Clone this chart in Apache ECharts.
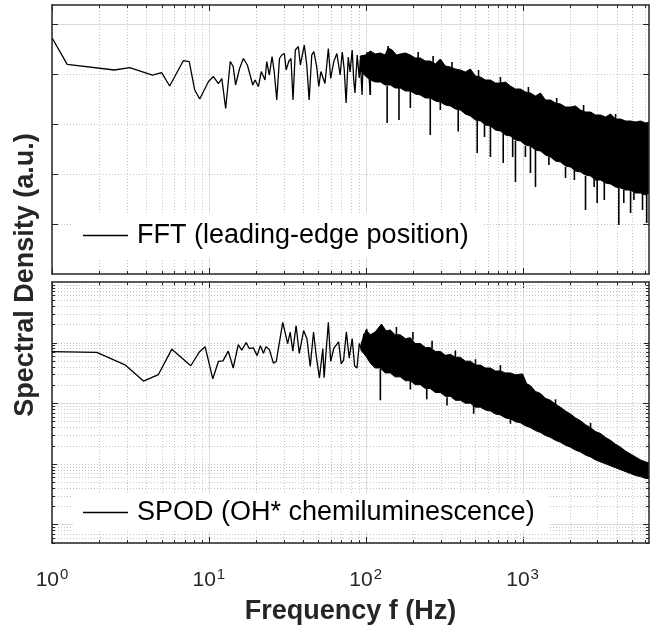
<!DOCTYPE html>
<html>
<head>
<meta charset="utf-8">
<script src="https://cdn.jsdelivr.net/npm/echarts@6/dist/echarts.min.js"></script>
<style>html,body{margin:0;padding:0;background:#fff}#chart{width:665px;height:626px}</style>
</head>
<body>
<div id="chart"></div>
<script>
// ---------------- data (frequency in Hz, spectral density in dB re 1 a.u.) ----------------
const xTickMajor = [1, 10, 100, 1000];
const xTickMinor = [2,3,4,5,6,7,8,9,20,30,40,50,60,70,80,90,200,300,400,500,600,700,800,900,2000,3000,4000,5000,6000];
const xRange = [1, 6400];

const topYRange = [1e-5, 2.4];
const topYMajor = [1];
const topYDecade = [1e-4, 1e-3, 1e-2, 1e-1];
const topYMinor = [];

const botYRange = [0.00494, 100];
const botYMajor = [0.01, 1];
const botYDecade = [0.1, 10];
const botYMinor = [0.005,0.006,0.007,0.008,0.009,0.02,0.03,0.04,0.05,0.06,0.07,0.08,0.09,
  0.2,0.3,0.4,0.5,0.6,0.7,0.8,0.9,2,3,4,5,6,7,8,9,20,30,40,50,60,70,80,90];

// FFT (leading-edge position): resolved low-frequency part
const fftLineFreq = [1,1.25,2.5,3.125,4.375,5.0,5.625,6.875,7.5,8.125,
  8.75,9.95,10.7,11.5,12.1,12.8,13.7,14.3,14.8,15.7,
  16.6,17.6,19.05,19.7,20.7,21.6,22.8,23.4,24.3,25.3,
  26.1,27.1,28.2,29.2,30.3,31.1,32.3,33.4,34.4,35.6,
  37.2,38.3,40.6,42.1,43.6,45.3,46.7,48.7,50.2,51.8,
  55.0,57.8,59.8,62.6,65.5,66.9,68.7,70.9,73.0,75.0,
  77.4,79.5,82.0,83.9,85.4,88.3,91.0,92.4,94.8,96.5,
  99.4,101.9,104,107];
const fftLineDb = [-2.74,-8.06,-9.2,-8.74,-10.2,-9.74,-12.4,-7.34,-7.54,-13.2,
  -15.0,-11.5,-10.5,-11.9,-10.9,-16.9,-7.5,-8.5,-12.2,-8.9,
  -6.9,-8.2,-12.2,-11.2,-12.5,-9.5,-11.2,-7.5,-10.2,-6.5,
  -9.5,-15.2,-6.9,-6.2,-5.9,-9.2,-7.5,-6.9,-15.2,-5.2,
  -4.5,-8.2,-4.2,-8.2,-15.2,-6.2,-5.5,-8.5,-12.5,-9.5,
  -11.9,-4.9,-10.9,-7.5,-5.9,-6.2,-10.2,-5.6,-9.2,-15.8,
  -6.6,-9.6,-5.2,-11.2,-13.8,-6.2,-10.8,-7.2,-14.2,-6.4,
  -10.2,-5.6,-8.8,-14.2];

// FFT: dense part, upper and lower edge of the trace
const fftUpFreq = [92.4,99.4,107,115,124,133,139,147.7,157,166,179,192.6,207,223,240,258,278,299,322,346.7,
  373,401.6,432,465,501,538.7,580,624,672,722.7,778,837,901,969.6,1043,1123,1209,1301,1400,1507,
  1622,1745,1879,2022,2176,2342,2520,2713,2920,3142,3382,3640,3918,4216,4538,4884,5257,5656,6089,6400];
const fftUpDb = [-6.4,-6.2,-5.4,-6.0,-5.8,-6.2,-4.8,-5.2,-6.2,-6.0,-5.8,-6.2,-6.8,-6.8,-7.4,-7.4,-8.0,-7.0,-8.4,-8.6,
  -9.0,-9.2,-9.6,-9.0,-10.4,-10.6,-11.2,-11.2,-11.8,-11.8,-11.6,-12.4,-13.0,-13.0,-13.6,-13.8,-14.4,-13.8,-15.2,-15.2,
  -15.8,-16.0,-16.6,-16.6,-16.4,-17.2,-17.6,-17.6,-18.2,-18.2,-18.6,-18.0,-19.0,-19.0,-19.4,-19.4,-19.6,-19.4,-19.8,-19.6];
const fftLoFreq = [92.4,99.4,107,115,124,133,143.5,154,166,179,192.6,207,223,240,258,278,299,322,346.7,373,
  401.6,432,465,501,538.7,580,624,672,722.7,778,837,901,969.6,1043,1123,1209,1301,1400,1507,1622,
  1745,1879,2022,2176,2342,2520,2713,2920,3142,3382,3640,3918,4216,4538,4884,5257,5656,6089,6400];
const fftLoDb = [-9.2,-10.4,-11.2,-11.6,-11.6,-12.2,-12.2,-12.8,-12.8,-13.4,-13.4,-14.0,-14.2,-14.8,-14.8,-15.4,-15.6,-16.2,-16.4,-17.0,
  -17.2,-18.0,-18.4,-19.2,-19.4,-20.2,-20.4,-21.2,-21.4,-22.2,-22.4,-23.2,-23.4,-24.2,-24.4,-25.2,-25.4,-26.2,-26.6,-27.4,
  -27.6,-28.4,-28.6,-29.4,-29.6,-30.2,-30.4,-31.2,-31.2,-31.8,-32.0,-32.6,-32.8,-33.2,-33.2,-33.8,-33.8,-34.2,-33.8];
// FFT: deep downward dips and narrow upward peaks in the dense part (from edge value to tip value)
const fftDipFreq = [107,137,163,192.6,258,299,389,514,572,624,753,865,901,1043,1123,1209,1472,1879,2140,2520,2860,2990,3320,4110,4420,4884,5130,5820,6190];
const fftDipTopDb = [-11.2,-12.4,-12.8,-13.2,-14.8,-15.4,-16.8,-19.2,-20.0,-20.2,-21.8,-22.6,-23.4,-24.4,-24.2,-25.2,-26.6,-28.6,-29.2,-30.4,-30.8,-31.2,-31.6,-32.8,-33.2,-33.2,-33.6,-33.6,-34.0];
const fftDipDb = [-14.2,-19.8,-19.2,-16.8,-22.2,-17.2,-21.5,-25.8,-22.6,-26.6,-27.8,-26.6,-31.6,-26.6,-29.8,-32.6,-28.2,-30.8,-31.2,-37.2,-32.6,-35.8,-35.2,-40.2,-35.8,-37.8,-35.2,-37.2,-39.8];
const fftPeakFreq = [139,216,269,355,524,722.7,1090,1650,2450,3918];
const fftPeakBaseDb = [-5.8,-6.8,-7.8,-8.8,-10.6,-11.8,-13.8,-16.0,-17.4,-19.2];
const fftPeakDb = [-4.4,-5.6,-6.4,-7.6,-9.2,-10.6,-12.6,-14.8,-16.2,-18.0];

// SPOD (OH* chemiluminescence): resolved low-frequency part
const spodLineFreq = [1,1.93,2.92,3.83,4.77,5.81,7.67,8.73,9.47,10.6,
  11.5,12.3,13.3,14.3,15.4,16.2,17.3,18.1,19.2,20.3,
  21.3,22.3,23.1,24.3,25.8,26.9,29.6,31.8,33.0,34.3,
  36.0,37.7,40.2,42.2,44.3,46.5,48.3,50.7,53.3,54.3,
  57.8,59.8,62.6,67.2,69.8,72.3,75.3,78.5,82.0,85.0,
  88.0,91.0,94.5,97.2,99.4,101.6,104.7,107];
const spodLineDb = [8.5,8.39,6.34,3.66,4.73,8.92,6.18,8.5,9.31,4.03,
  6.89,6.98,8.6,5.81,9.68,8.76,10.0,9.03,9.14,7.85,
  9.47,8.23,9.31,8.87,6.61,6.89,13.34,9.84,11.73,8.6,
  12.79,8.23,11.98,10.65,6.08,11.73,7.95,4.19,9.03,4.19,
  13.34,6.89,9.03,10.11,6.5,7.1,11.77,7.42,10.65,6.13,
  5.81,9.84,8.71,11.45,8.23,12.26,7.42,9.35];

// SPOD: dense part, upper and lower edge of the trace
const spodUpFreq = [93.5,100.5,107,115,126,135,143.5,154,166,179,192.6,207,223,240,258,278,299,322,346.7,373,
  401.6,432,465,501,538.7,580,624,672,722.7,778,837,901,1000,1062,1123,1209,1301,1400,1507,1622,
  1745,1879,2022,2176,2342,2520,2713,2920,3142,3382,3640,3918,4216,4538,4884,5257,5656,6089,6400];
const spodUpDb = [9.84,12.1,11.29,11.77,13.06,11.94,12.1,11.29,11.29,10.65,10.81,9.84,9.84,9.19,9.19,8.55,8.55,7.9,8.06,7.58,
  7.58,6.94,6.94,6.29,6.29,5.81,5.81,5.32,5.32,5.0,5.0,4.68,4.84,3.23,2.9,1.94,1.61,0.81,0.48,-0.16,
  -0.65,-1.29,-1.77,-2.42,-2.9,-3.55,-4.03,-4.68,-5.0,-5.65,-6.13,-6.77,-7.26,-7.9,-8.39,-8.87,-9.35,-9.68,-9.84];
const spodLoFreq = [93.5,100.5,107,115,124,133,143.5,154,166,179,192.6,207,223,240,258,278,299,322,346.7,373,
  401.6,432,465,501,538.7,580,624,672,722.7,778,837,901,969.6,1043,1123,1209,1301,1400,1507,1622,
  1745,1879,2022,2176,2342,2520,2713,2920,3142,3382,3640,3918,4216,4538,4884,5257,5656,6089,6400];
const spodLoDb = [8.71,7.74,6.61,5.81,5.81,5.0,5.0,4.35,4.35,3.71,3.71,3.06,3.06,2.42,2.42,1.77,1.77,1.13,1.13,0.48,
  0.48,0,0,-0.65,-0.65,-1.13,-1.29,-1.77,-1.94,-2.42,-2.58,-3.06,-3.23,-3.71,-4.03,-4.52,-4.84,-5.32,-5.65,-6.13,
  -6.45,-6.94,-7.26,-7.74,-8.06,-8.55,-8.87,-9.35,-9.68,-10.0,-10.32,-10.65,-10.97,-11.29,-11.61,-11.94,-12.1,-12.42,-12.42];
const spodDipFreq = [124,192.6,245,330,488,837];
const spodDipTopDb = [5.65,3.71,2.42,0.97,0.48,-2.42];
const spodDipDb = [0.48,2.26,0.65,-0.37,-1.73,-3.39];
const spodPeakFreq = [157,200,265,373,501,722.7,1622,2713];
const spodPeakBaseDb = [11.29,10.48,9.03,7.42,6.13,5.16,-0.32,-4.19];
const spodPeakDb = [12.58,11.77,10.32,8.71,7.26,6.29,0.65,-3.23];

const fftName = 'FFT (leading-edge position)';
const spodName = 'SPOD (OH* chemiluminescence)';

// ---------------- helpers ----------------
const FONT = "'Liberation Sans', Arial, Helvetica, sans-serif";
const FRAME = '#262626';
const GRID_MAJOR = '#dcdcdc';
const GRID_MINOR = '#c4c4c4';

const fromDb = d => Math.pow(10, d / 10);
const pairs = (f, d) => f.slice(0, Math.min(f.length, d.length)).map((x, i) => [x, fromDb(d[i])]);
const band = (uf, ud, lf, ld) => pairs(uf, ud).concat(pairs(lf, ld).reverse());
const segs = (f, t, b) => f.map((x, i) => [x, fromDb(t[i]), fromDb(b[i])]);

function gridItems(yRef, yMajor, yDecade, yMinor) {
  const items = [];
  xTickMajor.forEach(v => items.push([v, yRef, 0]));
  xTickMinor.forEach(v => items.push([v, yRef, 1]));
  yMajor.forEach(v => items.push([10, v, 2]));
  yDecade.forEach(v => items.push([10, v, 3]));
  yMinor.forEach(v => items.push([10, v, 4]));
  return items;
}
function makeGridRenderer(decadeLen) {
  return function (params, api) {
    const cs = params.coordSys;
    const kind = api.value(2);
    const p = api.coord([api.value(0), api.value(1)]);
    const L = cs.x, R = cs.x + cs.width, T = cs.y, B = cs.y + cs.height;
    const solid = { stroke: GRID_MAJOR, lineWidth: 1 };
    const dot = { stroke: GRID_MINOR, lineWidth: 1, lineDash: [1, 2] };
    const tick = { stroke: FRAME, lineWidth: 1 };
    const kids = [];
    if (kind <= 1) {
      const x = Math.round(p[0]) + 0.5;
      const len = kind === 0 ? 6 : 3;
      kids.push({ type: 'line', shape: { x1: x, y1: T, x2: x, y2: B }, style: kind === 0 ? solid : dot });
      kids.push({ type: 'line', shape: { x1: x, y1: B, x2: x, y2: B - len }, style: tick });
      kids.push({ type: 'line', shape: { x1: x, y1: T, x2: x, y2: T + len }, style: tick });
    } else {
      const y = Math.round(p[1]) + 0.5;
      const len = kind === 2 ? 6 : (kind === 3 ? decadeLen : 3);
      kids.push({ type: 'line', shape: { x1: L, y1: y, x2: R, y2: y }, style: kind === 2 ? solid : dot });
      kids.push({ type: 'line', shape: { x1: L, y1: y, x2: L + len, y2: y }, style: tick });
      kids.push({ type: 'line', shape: { x1: R, y1: y, x2: R - len, y2: y }, style: tick });
    }
    return { type: 'group', children: kids, silent: true };
  };
}
function makeBandRenderer(points) {
  return function (params, api) {
    if (params.dataIndex !== 0) return null;
    const pts = points.map(d => api.coord(d));
    return { type: 'polygon', shape: { points: pts }, style: { fill: '#000', stroke: '#000', lineWidth: 1 }, silent: true };
  };
}
function segRenderer(params, api) {
  const a = api.coord([api.value(0), api.value(1)]);
  const b = api.coord([api.value(0), api.value(2)]);
  return { type: 'line', shape: { x1: a[0], y1: a[1], x2: b[0], y2: b[1] }, style: { stroke: '#000', lineWidth: 1.6 }, silent: true };
}

const fftBand = band(fftUpFreq, fftUpDb, fftLoFreq, fftLoDb);
const spodBand = band(spodUpFreq, spodUpDb, spodLoFreq, spodLoDb);
const fftSegs = segs(fftDipFreq, fftDipTopDb, fftDipDb).concat(segs(fftPeakFreq, fftPeakBaseDb, fftPeakDb));
const spodSegs = segs(spodDipFreq, spodDipTopDb, spodDipDb).concat(segs(spodPeakFreq, spodPeakBaseDb, spodPeakDb));

function xAx(gridIndex, pos, labels) {
  const ax = {
    type: 'log', logBase: 10, gridIndex, position: pos, min: xRange[0], max: xRange[1], z: 10,
    axisLine: { show: true, onZero: false, lineStyle: { color: FRAME, width: 1.5 } },
    axisTick: { show: false }, splitLine: { show: false }, minorTick: { show: false },
    axisLabel: { show: false }
  };
  if (labels) {
    ax.axisLabel = {
      show: true, margin: 24, showMinLabel: true, showMaxLabel: false, color: FRAME,
      formatter: v => {
        const e = Math.log10(v);
        if (Math.abs(e - Math.round(e)) > 1e-6) return '';
        return '{b|10}{s|' + Math.round(e) + '}';
      },
      rich: {
        b: { fontSize: 21, fontFamily: FONT, color: FRAME, verticalAlign: 'bottom' },
        s: { fontSize: 15, fontFamily: FONT, color: FRAME, verticalAlign: 'bottom', padding: [0, 0, 9, 1] }
      }
    };
    ax.name = 'Frequency f (Hz)';
    ax.nameLocation = 'middle';
    ax.nameGap = 55;
    ax.nameTextStyle = { fontSize: 27, fontWeight: 'bold', fontFamily: FONT, color: FRAME };
  }
  return ax;
}
function yAx(gridIndex, pos, range) {
  return {
    type: 'log', logBase: 10, gridIndex, position: pos, min: range[0], max: range[1], z: 10,
    axisLine: { show: true, onZero: false, lineStyle: { color: FRAME, width: 1.5 } },
    axisTick: { show: false }, splitLine: { show: false }, axisLabel: { show: false }
  };
}

const chart = echarts.init(document.getElementById('chart'), null, { renderer: 'canvas' });
chart.setOption({
  animation: false,
  backgroundColor: '#fff',
  grid: [
    { left: 52, top: 5, width: 597, height: 269 },
    { left: 52, top: 282, width: 597, height: 267 }
  ],
  xAxis: [xAx(0, 'bottom', false), xAx(0, 'top', false), xAx(1, 'bottom', true), xAx(1, 'top', false)],
  yAxis: [yAx(0, 'left', topYRange), yAx(0, 'right', topYRange), yAx(1, 'left', botYRange), yAx(1, 'right', botYRange)],
  legend: [
    {
      data: [fftName], left: 72, top: 213, padding: [9, 14, 9, 11], backgroundColor: '#fff',
      icon: 'rect', itemWidth: 45, itemHeight: 1.5, selectedMode: false, itemStyle: { color: '#000' },
      textStyle: { fontSize: 27, fontFamily: FONT, color: '#000', padding: [0, 0, 0, 4] }
    },
    {
      data: [spodName], left: 73, top: 494, padding: [5, 15, 5, 10], backgroundColor: '#fff',
      icon: 'rect', itemWidth: 45, itemHeight: 1.5, selectedMode: false, itemStyle: { color: '#000' },
      textStyle: { fontSize: 27, fontFamily: FONT, color: '#000', padding: [0, 0, 0, 4] }
    }
  ],
  graphic: [{
    type: 'text', x: 26, y: 275, rotation: Math.PI / 2, silent: true,
    style: { text: 'Spectral Density (a.u.)', fontSize: 27, fontWeight: 'bold', fontFamily: FONT, fill: FRAME, align: 'center', verticalAlign: 'middle' }
  }],
  series: [
    { type: 'custom', name: 'grid-top', xAxisIndex: 0, yAxisIndex: 0, z: 1, silent: true,
      encode: { x: 0, y: 1 }, renderItem: makeGridRenderer(6), data: gridItems(0.01, topYMajor, topYDecade, topYMinor) },
    { type: 'custom', name: 'grid-bottom', xAxisIndex: 2, yAxisIndex: 2, z: 1, silent: true,
      encode: { x: 0, y: 1 }, renderItem: makeGridRenderer(5), data: gridItems(0.1, botYMajor, botYDecade, botYMinor) },

    { type: 'custom', name: 'fft-band', xAxisIndex: 0, yAxisIndex: 0, z: 3, clip: true,
      encode: { x: 0, y: 1 }, renderItem: makeBandRenderer(fftBand), data: fftBand },
    { type: 'custom', name: 'fft-spikes', xAxisIndex: 0, yAxisIndex: 0, z: 3, clip: true,
      encode: { x: 0, y: [1, 2] }, renderItem: segRenderer, data: fftSegs },
    { type: 'line', name: fftName, xAxisIndex: 0, yAxisIndex: 0, z: 4, symbol: 'none', showSymbol: false,
      lineStyle: { color: '#000', width: 1.3 }, itemStyle: { color: '#000' }, clip: true,
      data: pairs(fftLineFreq, fftLineDb) },

    { type: 'custom', name: 'spod-band', xAxisIndex: 2, yAxisIndex: 2, z: 3, clip: true,
      encode: { x: 0, y: 1 }, renderItem: makeBandRenderer(spodBand), data: spodBand },
    { type: 'custom', name: 'spod-spikes', xAxisIndex: 2, yAxisIndex: 2, z: 3, clip: true,
      encode: { x: 0, y: [1, 2] }, renderItem: segRenderer, data: spodSegs },
    { type: 'line', name: spodName, xAxisIndex: 2, yAxisIndex: 2, z: 4, symbol: 'none', showSymbol: false,
      lineStyle: { color: '#000', width: 1.3 }, itemStyle: { color: '#000' }, clip: true,
      data: pairs(spodLineFreq, spodLineDb) }
  ]
});
</script>
</body>
</html>
